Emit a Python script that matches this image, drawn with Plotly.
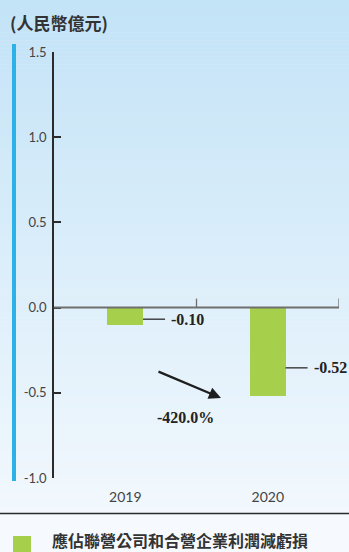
import plotly.graph_objects as go

# ---- data ----
categories = ["2019", "2020"]
values = [-0.10, -0.52]
change_label = "-420.0%"
series_name = "應佔聯營公司和合營企業利潤減虧損"
unit_title = "(人民幣億元)"
y_tick_vals = [-1.0, -0.5, 0.0, 0.5, 1.0, 1.5]
y_tick_text = ["-1.0", "-0.5", "0.0", "0.5", "1.0", "1.5"]

W, H = 349, 552
ML, MR, MT, MB = 54, 10, 52, 74
PW, PH = W - ML - MR, H - MT - MB


def px2paper_x(px):
    return (px - ML) / PW


def py2paper_y(py):
    return (H - MB - py) / PH


GREEN = "#a6cf4b"
DARK = "#2b2b2b"

fig = go.Figure()
fig.add_trace(go.Bar(
    x=categories, y=values, width=0.25, name=series_name,
    marker=dict(color=GREEN, line=dict(width=0)), showlegend=False,
    hoverinfo="skip",
))

shapes = []
# background gradient stripes
top = (195, 227, 247)
bot = (242, 248, 253)
n = 128
for i in range(n):
    y0 = i * 514 / n
    y1 = (i + 1) * 514 / n + 0.6
    t = i / (n - 1)
    c = tuple(round(top[k] + (bot[k] - top[k]) * t) for k in range(3))
    shapes.append(dict(type="rect", xref="paper", yref="paper", layer="below",
                       x0=px2paper_x(-2), x1=px2paper_x(W + 2),
                       y0=py2paper_y(y1), y1=py2paper_y(y0),
                       line=dict(width=0), fillcolor="rgb(%d,%d,%d)" % c))
# blue side bar
shapes.append(dict(type="rect", xref="paper", yref="paper",
                   x0=px2paper_x(12), x1=px2paper_x(16),
                   y0=py2paper_y(481), y1=py2paper_y(44),
                   line=dict(width=0), fillcolor="#2cb1e8"))
# separator line
shapes.append(dict(type="line", xref="paper", yref="paper",
                   x0=px2paper_x(0), x1=px2paper_x(W),
                   y0=py2paper_y(513.5), y1=py2paper_y(513.5),
                   line=dict(color=DARK, width=1.5)))
# zero line
shapes.append(dict(type="line", xref="paper", yref="y", x0=0, x1=1, y0=0, y1=0,
                   line=dict(color="#6f6f6f", width=2)))
# category boundary ticks on zero line
for b in [0.5, 1.5]:
    shapes.append(dict(type="line", xref="x", yref="y", ysizemode="pixel", yanchor=0,
                       x0=b, x1=b, y0=0, y1=9, line=dict(color="#6f6f6f", width=1.3)))

annotations = []
# value labels with leader lines
for i, v in enumerate(values):
    xa = i + 0.125
    ly = v * 0.68
    shapes.append(dict(type="line", xref="x", yref="y", xsizemode="pixel", xanchor=xa,
                       x0=0, x1=22, y0=ly, y1=ly, line=dict(color=DARK, width=1.3)))
    annotations.append(dict(x=xa, y=ly, xref="x", yref="y", xanchor="left", yanchor="middle",
                            xshift=26, showarrow=False, text="<b>%.2f</b>" % v,
                            font=dict(family="Liberation Serif", size=16, color="#222")))

# change arrow
annotations.append(dict(xref="paper", yref="paper", x=px2paper_x(221), y=py2paper_y(398),
                        ax=-64, ay=-27, showarrow=True, arrowhead=2, arrowsize=1.1,
                        arrowwidth=2.2, arrowcolor="#1e1e1e", text=""))
annotations.append(dict(xref="paper", yref="paper", x=px2paper_x(185), y=py2paper_y(417),
                        xanchor="center", yanchor="middle", showarrow=False,
                        text="<b>%s</b>" % change_label,
                        font=dict(family="Liberation Serif", size=16, color="#222")))
# unit title
annotations.append(dict(xref="paper", yref="paper", x=px2paper_x(8), y=py2paper_y(22),
                        xanchor="left", yanchor="middle", showarrow=False,
                        text="<b>%s</b>" % unit_title,
                        font=dict(family="Noto Sans CJK TC", size=17, color="#333")))
# legend
shapes.append(dict(type="rect", xref="paper", yref="paper",
                   x0=px2paper_x(13), x1=px2paper_x(31),
                   y0=py2paper_y(554), y1=py2paper_y(536),
                   line=dict(width=0), fillcolor=GREEN))
annotations.append(dict(xref="paper", yref="paper", x=px2paper_x(51), y=py2paper_y(539.5),
                        xanchor="left", yanchor="middle", showarrow=False, borderpad=0,
                        text="<b>%s</b>" % series_name,
                        font=dict(family="Noto Sans CJK TC", size=16, color="#333")))

fig.update_layout(
    width=W, height=H,
    margin=dict(l=ML, r=MR, t=MT, b=MB, pad=0),
    paper_bgcolor="#f6fafe", plot_bgcolor="rgba(0,0,0,0)",
    shapes=shapes, annotations=annotations,
    bargap=0, hovermode=False,
    xaxis=dict(type="category", range=[-0.5, 1.5], showline=False, showgrid=False,
               zeroline=False, ticks="", ticklabelstandoff=9,
               tickfont=dict(family="Lato", size=14, color="#444")),
    yaxis=dict(range=[-1.0, 1.5], tickvals=y_tick_vals, ticktext=y_tick_text,
               showgrid=False, zeroline=False, showline=True, linecolor=DARK,
               linewidth=1.5, ticks="inside", ticklen=7, tickwidth=1.5, tickcolor=DARK,
               ticklabelstandoff=3,
               tickfont=dict(family="Lato", size=13, color="#444")),
)

fig.write_html(
    "out.html",
    config={"displayModeBar": False},
    post_script="document.body.style.margin='0';document.body.style.overflow='hidden';",
)
